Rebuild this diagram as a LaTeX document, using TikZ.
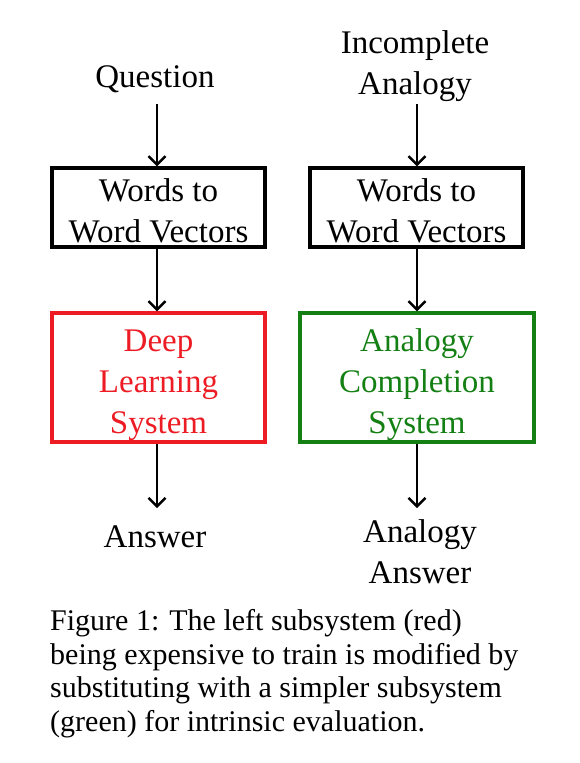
\documentclass[tikz,border=0pt]{standalone}
\usepackage{fontspec}
\setmainfont{Liberation Serif}
\usetikzlibrary{arrows.meta}
\definecolor{redbox}{RGB}{237,28,36}
\definecolor{greenbox}{RGB}{20,128,20}
\newcommand{\boxtext}[2]{\raisebox{-#1}[0pt][0pt]{\begin{tabular}{@{}c@{}}#2\end{tabular}}}
\begin{document}
\begin{tikzpicture}[x=1pt,y=-1pt,
  lbl/.style={align=center,font=\fontsize{33}{41}\selectfont,inner sep=0pt},
  box/.style={draw,line width=3.4pt,font=\fontsize{33}{41}\selectfont,inner sep=0pt,text height=0pt,text depth=0pt},
  arr/.style={line width=1.3pt,-{Straight Barb[length=8.5pt,width=17pt,line width=2.4pt]}}]
\useasboundingbox (0,0) rectangle (579,763);
% left column
\node[lbl] (q) at (155,79) {Question};
\node[box,minimum width=213pt,minimum height=79pt] (w1) at (158.5,207.5) {\boxtext{12.5pt}{Words to\\Word Vectors}};
\node[box,draw=redbox,text=redbox,minimum width=213pt,minimum height=129pt] (dl) at (158.5,377.5) {\boxtext{13.5pt}{Deep\\Learning\\System}};
\node[lbl] (ans) at (155,537) {Answer};
% right column
\node[lbl] (ia) at (415,66) {Incomplete\\Analogy};
\node[box,minimum width=213pt,minimum height=79pt] (w2) at (416.5,207.5) {\boxtext{12.5pt}{Words to\\Word Vectors}};
\node[box,draw=greenbox,text=greenbox,minimum width=234pt,minimum height=129pt] (ac) at (417,377.5) {\boxtext{13.5pt}{Analogy\\Completion\\System}};
\node[lbl] (aa) at (420,552) {Analogy\\Answer};
% arrows
\coordinate (qs) at (157,104);
\coordinate (ias) at (417,104);
\coordinate (ae1) at (157,508);
\coordinate (ae2) at (417,508);
\draw[arr] (qs) -- (w1.north -| qs);
\draw[arr] (w1.south -| qs) -- (dl.north -| qs);
\draw[arr] (dl.south -| qs) -- (ae1);
\draw[arr] (ias) -- (w2.north -| ias);
\draw[arr] (w2.south -| ias) -- (ac.north -| ias);
\draw[arr] (ac.south -| ias) -- (ae2);
% caption
\node[anchor=north west,align=left,inner sep=0pt,font=\fontsize{30}{33.7}\selectfont] (cap) at (50,609)
{Figure 1: The left subsystem (red)\\being expensive to train is modified by\\substituting with a simpler subsystem\\(green) for intrinsic evaluation.};
\end{tikzpicture}
\end{document}
